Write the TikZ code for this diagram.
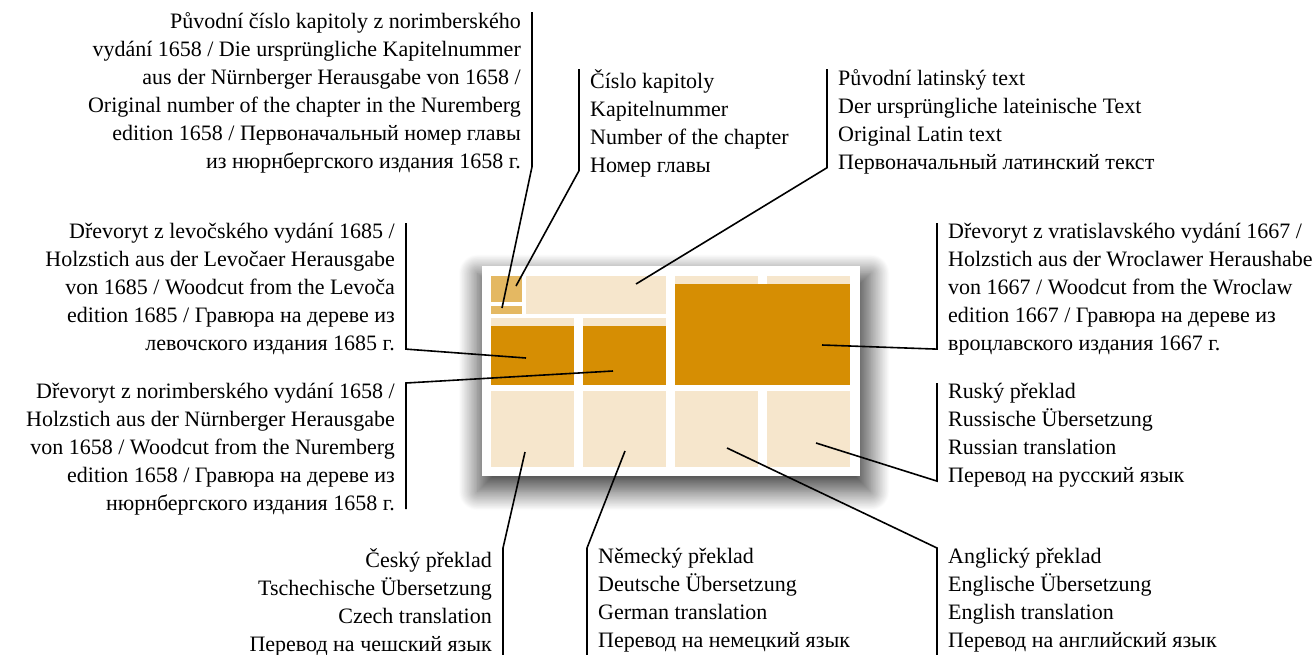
\documentclass[tikz,border=0pt]{standalone}
\usepackage{fontspec}
\setmainfont{Liberation Serif}
\usepackage{tikz}
\usetikzlibrary{shadows.blur}
\definecolor{paper}{HTML}{F6E6CC}
\definecolor{woodcut}{HTML}{D68E03}
\definecolor{chapno}{HTML}{E4B862}
\tikzset{
  basic/.style      = {inner xsep=11pt, inner ysep=0pt, font=\fontsize{22}{28}\selectfont,
                       execute at begin node=\strut, execute at end node=\strut},
  note left/.style  = {basic, align=right, anchor=north east},
  note right/.style = {basic, align=left, anchor=north west},
  leader/.style     = {draw, line width=1.6pt},
  sheet/.style      = {fill=white, blur shadow={shadow xshift=3pt, shadow yshift=-11pt,
                       shadow blur radius=18pt, shadow blur steps=30, shadow opacity=72,
                       shadow scale=1.04}}
}

\begin{document}
\begin{tikzpicture}[x=1pt,y=-1pt]
\useasboundingbox (0,0) rectangle (1316,654);

% the page with its blocks
\path[sheet] (482,266) rectangle (860,476);
\fill[chapno] (491,276) rectangle (522,302);
\fill[chapno] (491,306) rectangle (522,314);
\fill[paper]  (526,276) rectangle (666,314);
\foreach \x in {675,767}
  \fill[paper] (\x,276) rectangle ++(83,8);
\fill[woodcut] (675,284) rectangle (850,385);
\foreach \x in {491,583} {
  \fill[paper]   (\x,318) rectangle ++(83,8);
  \fill[woodcut] (\x,326) rectangle ++(83,59);
}
\foreach \x in {491,583,675,767}
  \fill[paper] (\x,391) rectangle ++(83,76);

% points the leaders run to
\coordinate (t1)  at (502,308);
\coordinate (t2)  at (516,286);
\coordinate (t3)  at (636,284);
\coordinate (t4)  at (822,345);
\coordinate (t5)  at (526,358);
\coordinate (t6)  at (613,371);
\coordinate (t7)  at (816,443);
\coordinate (t8)  at (525,452);
\coordinate (t9)  at (625,451);
\coordinate (t10) at (727,448);

\node[note left]  (l1) at (532,12) {Původní číslo kapitoly z norimberského\\ vydání 1658 / Die ursprüngliche Kapitelnummer\\ aus der Nürnberger Herausgabe von 1658 /\\ Original number of the chapter in the Nuremberg\\ edition 1658 / Первоначальный номер главы\\ из нюрнбергского издания 1658 г.};
\node[note right] (l2) at (579,69) {Číslo kapitoly\\ Kapitelnummer\\ Number of the chapter\\ Номер главы};
\node[note right] (l3) at (827,69) {Původní latinský text\\ Der ursprüngliche lateinische Text\\ Original Latin text\\ Первоначальный латинский текст};
\node[note right] (l4) at (937,223) {Dřevoryt z vratislavského vydání 1667 /\\ Holzstich aus der Wroclawer Heraushabe\\ von 1667 / Woodcut from the Wroclaw\\ edition 1667 / Гравюра на дереве из\\ вроцлавского издания 1667 г.};
\node[note left]  (l5) at (406,223) {Dřevoryt z levočského vydání 1685 /\\ Holzstich aus der Levočaer Herausgabe\\ von 1685 / Woodcut from the Levoča\\ edition 1685 / Гравюра на дереве из\\ левочского издания 1685 г.};
\node[note left]  (l6) at (406,383) {Dřevoryt z norimberského vydání 1658 /\\ Holzstich aus der Nürnberger Herausgabe\\ von 1658 / Woodcut from the Nuremberg\\ edition 1658 / Гравюра на дереве из\\ нюрнбергского издания 1658 г.};
\node[note right] (l7) at (937,383) {Ruský překlad\\ Russische Übersetzung\\ Russian translation\\ Перевод на русский язык};
\node[note left]  (l8) at (503,548) {Český překlad\\ Tschechische Übersetzung\\ Czech translation\\ Перевод на чешский язык};
\node[note right] (l9) at (587,548) {Německý překlad\\ Deutsche Übersetzung\\ German translation\\ Перевод на немецкий язык};
\node[note right] (l10) at (937,548) {Anglický překlad\\ Englische Übersetzung\\ English translation\\ Перевод на английский язык};

% bars leaving at the lower end
\foreach \n/\s in {1/east,2/west,3/west,4/west,5/east,7/west}
  \draw[leader] (l\n.north \s) -- ([yshift=10pt]l\n.south \s) -- (t\n);
% bars leaving at the upper end
\foreach \n/\s/\d in {6/east/10,8/east/0,9/west/0,10/west/0}
  \draw[leader] ([yshift=\d pt]l\n.south \s) -- (l\n.north \s) -- (t\n);

\end{tikzpicture}
\end{document}
